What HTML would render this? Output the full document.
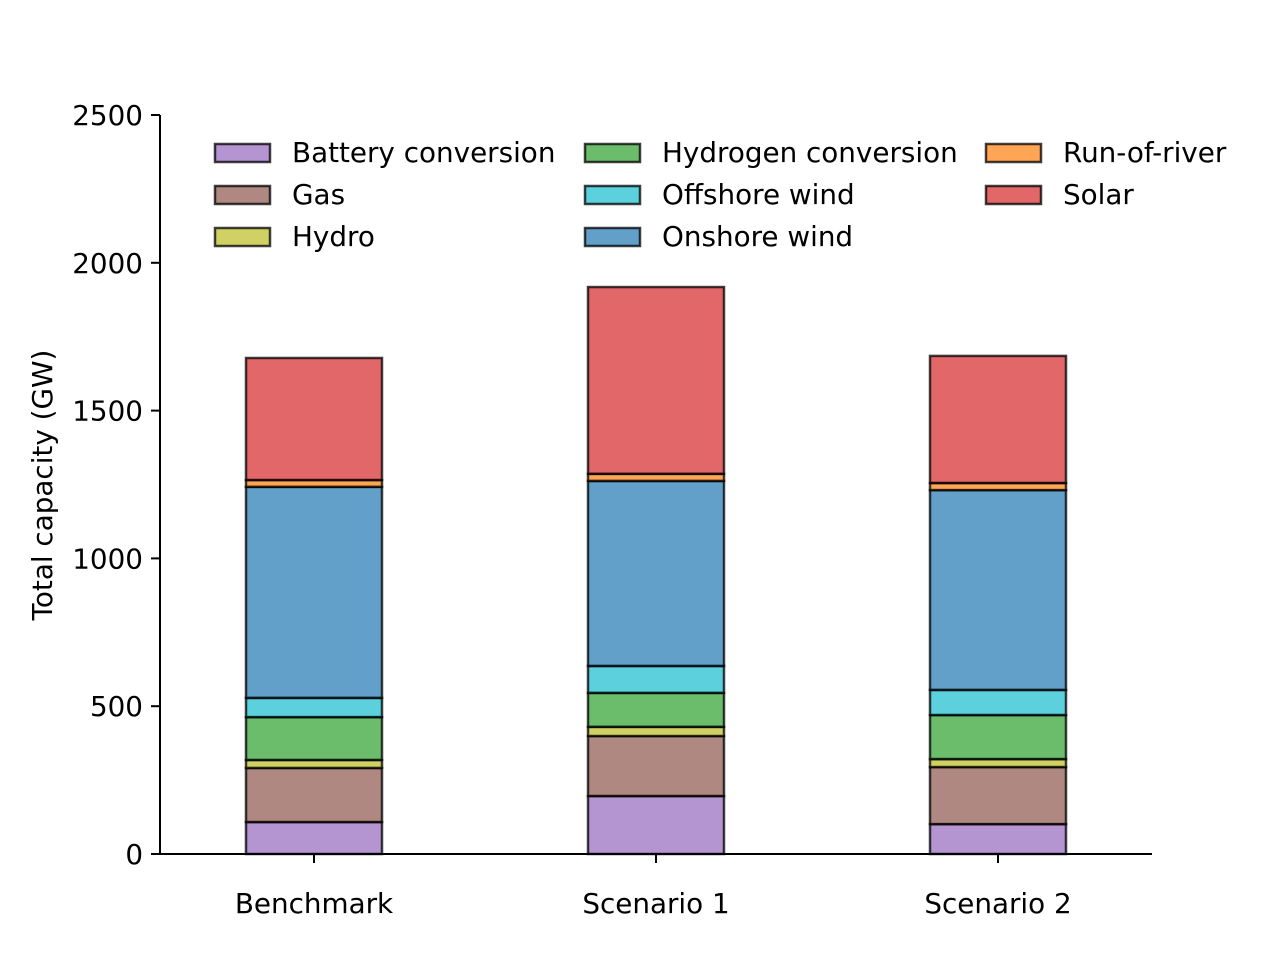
<!DOCTYPE html>
<html><head><meta charset="utf-8"><style>
body{margin:0;background:#fff;}
svg text{font-family:"DejaVu Sans","Liberation Sans",sans-serif;font-size:27.8px;fill:#000;}
</style></head><body>
<svg id="chart" width="1280" height="960" viewBox="0 0 1280 960"></svg>
<script>
const categories = ["Benchmark","Scenario 1","Scenario 2"];
const seriesNames = ["Battery conversion","Gas","Hydro","Hydrogen conversion","Offshore wind","Onshore wind","Run-of-river","Solar"];
const battery = [108,196,101];
const gas = [183,203,193];
const hydro = [27,31,27];
const hydrogen = [145,115,149];
const offshore = [65,91,85];
const onshore = [714,626,676];
const runOfRiver = [23,24,24];
const solar = [413,632,430];
const yTicks = [0,500,1000,1500,2000,2500];
const seriesValues = [battery,gas,hydro,hydrogen,offshore,onshore,runOfRiver,solar];
const colors = ["#9467bd","#8c564b","#bcbd22","#2ca02c","#17becf","#1f77b4","#ff7f0e","#d62728"];

const svg = document.getElementById('chart');
const NS = "http://www.w3.org/2000/svg";
const x0=160,x1=1152,y0=854,yTop=115,yMax=2500;
const y = v => y0 - v/yMax*(y0-yTop);
const xc = i => 314 + i*342;
const bw = 136;
function mk(tag,attrs){const e=document.createElementNS(NS,tag);for(const k in attrs)e.setAttribute(k,attrs[k]);svg.appendChild(e);return e;}

categories.forEach((c,i)=>{
  let cum=0;
  seriesValues.forEach((s,j)=>{
    const v=s[i];
    const r=mk('rect',{x:xc(i)-bw/2,y:y(cum+v),width:bw,height:y(cum)-y(cum+v),fill:colors[j],'fill-opacity':0.7,stroke:'#000','stroke-opacity':0.75,'stroke-width':2.5});
    
    
    cum+=v;
  });
  const t=mk('line',{x1:xc(i),x2:xc(i),y1:y0,y2:y0+9,stroke:'#000','stroke-width':2});
  
  
  const l=mk('text',{x:xc(i),y:913,'text-anchor':'middle'});
  l.textContent=c;
  
  
});
const ax=mk('line',{x1:x0,x2:x0,y1:yTop,y2:y0+1,stroke:'#000','stroke-width':2});


const axx=mk('line',{x1:x0-1,x2:x1,y1:y0,y2:y0,stroke:'#000','stroke-width':2});


yTicks.forEach(v=>{
  const t=mk('line',{x1:x0-9,x2:x0,y1:y(v),y2:y(v),stroke:'#000','stroke-width':2});
  
  
  const l=mk('text',{x:x0-17,y:y(v)+10,'text-anchor':'end'});
  l.textContent=v;
  
  
});
const yt=mk('text',{x:52,y:485,'text-anchor':'middle',transform:'rotate(-90 52 485)'});
yt.textContent='Total capacity (GW)';


const colX=[215,585,986];
seriesNames.forEach((n,j)=>{
  const col=Math.floor(j/3),row=j%3;
  const px=colX[col],py=144+row*42;
  const r=mk('rect',{x:px,y:py,width:55,height:18,fill:colors[j],'fill-opacity':0.7,stroke:'#000','stroke-opacity':0.75,'stroke-width':2.5});
  
  
  const t=mk('text',{x:px+77,y:py+18});
  t.textContent=n;
  
  
});
</script>
</body></html>
